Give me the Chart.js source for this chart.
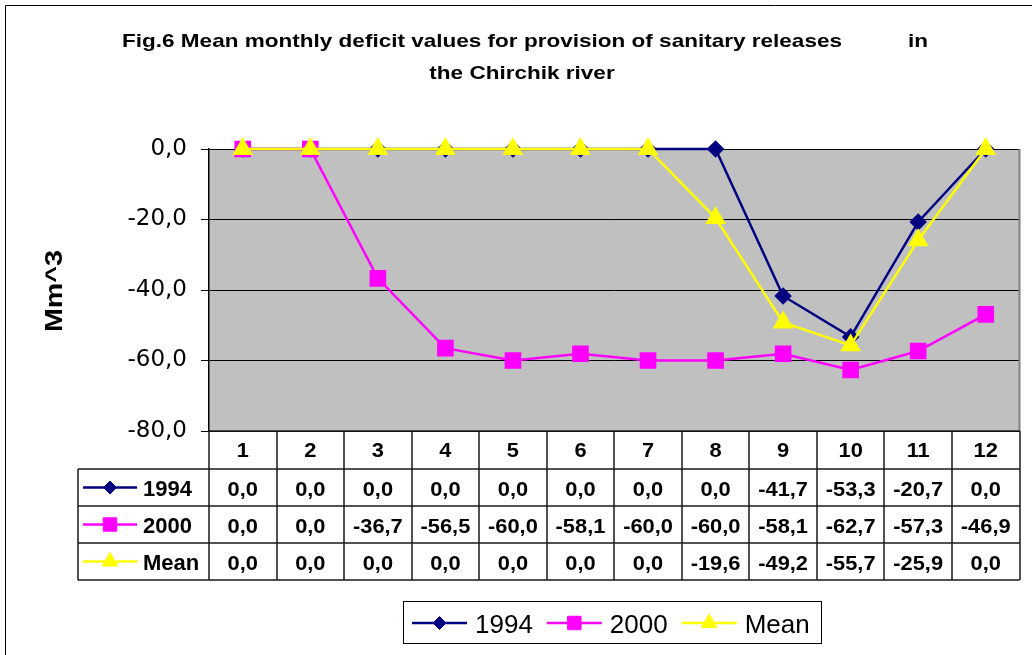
<!DOCTYPE html>
<html>
<head>
<meta charset="utf-8">
<script src="https://cdn.jsdelivr.net/npm/chart.js@4/dist/chart.umd.min.js"></script>
<style>
  html, body { margin: 0; padding: 0; background: #fff; }
  #wrap { width: 1032px; height: 655px; position: relative; }
</style>
</head>
<body>
<div id="wrap"><canvas id="deficitChart"></canvas></div>
<script>
// chart data
var months = ['1', '2', '3', '4', '5', '6', '7', '8', '9', '10', '11', '12'];
var deficit1994 = [0.0, 0.0, 0.0, 0.0, 0.0, 0.0, 0.0, 0.0, -41.7, -53.3, -20.7, 0.0];
var deficit2000 = [0.0, 0.0, -36.7, -56.5, -60.0, -58.1, -60.0, -60.0, -58.1, -62.7, -57.3, -46.9];
var deficitMean = [0.0, 0.0, 0.0, 0.0, 0.0, 0.0, 0.0, -19.6, -49.2, -55.7, -25.9, 0.0];
var seriesNames = ['1994', '2000', 'Mean'];
var yMin = -80, yMax = 0, yStep = 20;

var titleLine1 = 'Fig.6 Mean monthly deficit values for provision of sanitary releases';
var titleTail = 'in';
var titleLine2 = 'the Chirchik river';
var yTitle = 'Mm^3';

function fmt(v) {
  return v.toFixed(1).replace('.', ',');
}

// draws text squeezed/stretched horizontally by sx
function drawText(ctx, str, x, y, font, align, sx) {
  ctx.save();
  ctx.font = font;
  ctx.textAlign = 'left';
  ctx.textBaseline = 'alphabetic';
  var w = ctx.measureText(str).width * sx;
  var x0 = x;
  if (align === 'center') x0 = x - w / 2;
  if (align === 'right') x0 = x - w;
  ctx.translate(x0, y);
  ctx.scale(sx, 1);
  ctx.fillText(str, 0, 0);
  ctx.restore();
  return w;
}

function marker(ctx, ds, x, y, r) {
  ctx.save();
  ctx.fillStyle = ds.pointBackgroundColor;
  ctx.strokeStyle = ds.pointBorderColor;
  ctx.lineWidth = 1;
  if (Chart.helpers && Chart.helpers.drawPoint) {
    Chart.helpers.drawPoint(ctx, { pointStyle: ds.pointStyle, radius: r, rotation: 0, borderWidth: 1 }, x, y);
  }
  ctx.restore();
}

function legendKey(ctx, ds, x1, x2, y, r) {
  ctx.save();
  ctx.strokeStyle = ds.borderColor;
  ctx.lineWidth = 2.5;
  ctx.beginPath();
  ctx.moveTo(x1, y);
  ctx.lineTo(x2, y);
  ctx.stroke();
  ctx.restore();
  marker(ctx, ds, (x1 + x2) / 2, y, r);
}

var sheetPlugin = {
  id: 'sheet',
  beforeDraw: function (chart) {
    var ctx = chart.ctx, a = chart.chartArea;
    ctx.save();
    ctx.fillStyle = '#fff';
    ctx.fillRect(0, 0, chart.width, chart.height);
    ctx.fillStyle = '#c0c0c0';
    ctx.fillRect(a.left, a.top, a.right - a.left, a.bottom - a.top);
    ctx.restore();
  },
  afterDraw: function (chart) {
    var ctx = chart.ctx, a = chart.chartArea;
    var xs = chart.scales.x;
    var dsets = chart.data.datasets;
    var i, j;

    // outer frame
    ctx.save();
    ctx.strokeStyle = '#000';
    ctx.lineWidth = 1;
    ctx.beginPath();
    ctx.moveTo(5.5, chart.height);
    ctx.lineTo(5.5, 5.5);
    ctx.lineTo(chart.width, 5.5);
    ctx.stroke();

    // plot area right edge
    ctx.strokeStyle = '#808080';
    ctx.lineWidth = 2;
    ctx.beginPath();
    ctx.moveTo(a.right, a.top);
    ctx.lineTo(a.right, a.bottom);
    ctx.stroke();
    ctx.restore();

    // title
    ctx.save();
    ctx.fillStyle = '#000';
    var tFont = 'bold 19px Arial, "Liberation Sans", sans-serif';
    ctx.font = tFont;
    var sx = (842 - 122) / ctx.measureText(titleLine1).width;
    drawText(ctx, titleLine1, 122, 47, tFont, 'left', sx);
    drawText(ctx, titleTail, 908, 47, tFont, 'left', sx);
    drawText(ctx, titleLine2, 522, 79, tFont, 'center', sx);

    // y axis title
    var yFont = 'bold 24px Arial, "Liberation Sans", sans-serif';
    ctx.font = yFont;
    var ysx = 82 / ctx.measureText(yTitle).width;
    ctx.translate(62, 291);
    ctx.rotate(-Math.PI / 2);
    drawText(ctx, yTitle, 0, 0, yFont, 'center', ysx);
    ctx.restore();

    // data table
    var colW = (xs.right - xs.left) / months.length;
    var headTop = a.bottom, headBot = 469, rowH = 37;
    var tableLeft = 78;
    var rowsBot = headBot + rowH * dsets.length;
    ctx.save();
    ctx.strokeStyle = '#1a1a1a';
    ctx.lineWidth = 1.5;
    ctx.beginPath();
    for (i = 0; i <= months.length; i++) {
      var vx = Math.round(xs.left + i * colW);
      ctx.moveTo(vx, headTop);
      ctx.lineTo(vx, rowsBot);
    }
    ctx.moveTo(tableLeft, headBot);
    ctx.lineTo(tableLeft, rowsBot);
    for (j = 0; j <= dsets.length; j++) {
      var hy = headBot + j * rowH;
      ctx.moveTo(tableLeft, hy);
      ctx.lineTo(xs.right, hy);
    }
    ctx.moveTo(xs.left, headTop);
    ctx.lineTo(xs.right, headTop);
    ctx.stroke();
    ctx.restore();

    ctx.save();
    ctx.fillStyle = '#000';
    var cFont = 'bold 19.5px Arial, "Liberation Sans", sans-serif';
    for (i = 0; i < months.length; i++) {
      var cx = xs.getPixelForValue(i);
      drawText(ctx, months[i], cx, 457, cFont, 'center', 1.12);
      for (j = 0; j < dsets.length; j++) {
        drawText(ctx, fmt(dsets[j].data[i]), cx, 496 + j * rowH, cFont, 'center', 1.12);
      }
    }
    var lFont = 'bold 22px Arial, "Liberation Sans", sans-serif';
    var radii = [6.5, 9.5, 9];
    for (j = 0; j < dsets.length; j++) {
      var ry = headBot + j * rowH + rowH / 2;
      legendKey(ctx, dsets[j], 83, 137, ry, radii[j]);
      ctx.fillStyle = '#000';
      drawText(ctx, dsets[j].label, 143, 496 + j * rowH, lFont, 'left', 1);
    }
    ctx.restore();

    // bottom legend
    ctx.save();
    var gFont = '26px Arial, "Liberation Sans", sans-serif';
    var lx = 412, ly = 623;
    for (j = 0; j < dsets.length; j++) {
      legendKey(ctx, dsets[j], lx, lx + 55, ly, radii[j]);
      ctx.fillStyle = '#000';
      var tw = drawText(ctx, dsets[j].label, lx + 63, 633, gFont, 'left', 1);
      lx = lx + 63 + tw + 14;
    }
    ctx.strokeStyle = '#000';
    ctx.lineWidth = 1;
    ctx.strokeRect(403.5, 601.5, Math.round(lx - 14 + 11 - 403), 42);
    ctx.restore();
  }
};

var ctx = document.getElementById('deficitChart').getContext('2d');
var deficitChart = new Chart(ctx, {
  type: 'line',
  data: {
    labels: months,
    datasets: [{
      label: seriesNames[0],
      data: deficit1994,
      borderColor: '#000080',
      backgroundColor: '#000080',
      pointBackgroundColor: '#000080',
      pointBorderColor: '#000080',
      pointStyle: 'rectRot',
      pointRadius: 7,
      borderWidth: 2.5,
      order: 2,
      clip: false
    }, {
      label: seriesNames[1],
      data: deficit2000,
      borderColor: '#ff00ff',
      backgroundColor: '#ff00ff',
      pointBackgroundColor: '#ff00ff',
      pointBorderColor: '#ff00ff',
      pointStyle: 'rect',
      pointRadius: 10,
      borderWidth: 2.5,
      order: 1,
      clip: false
    }, {
      label: seriesNames[2],
      data: deficitMean,
      borderColor: '#ffff00',
      backgroundColor: '#ffff00',
      pointBackgroundColor: '#ffff00',
      pointBorderColor: '#ffff00',
      pointStyle: 'triangle',
      pointRadius: 9.5,
      borderWidth: 2.5,
      order: 0,
      clip: false
    }]
  },
  options: {
    responsive: true,
    maintainAspectRatio: false,
    animation: false,
    layout: {
      padding: { left: 10, top: 149, right: 10, bottom: 224 }
    },
    plugins: {
      legend: { display: false },
      title: { display: false },
      tooltip: { enabled: false }
    },
    scales: {
      x: {
        type: 'category',
        display: false,
        offset: true
      },
      y: {
        min: yMin,
        max: yMax,
        afterFit: function (scale) {
          scale.width = 199;
        },
        ticks: {
          stepSize: yStep,
          padding: 14,
          color: '#000',
          font: { family: '"DejaVu Sans", Arial, sans-serif', size: 23 },
          callback: function (v) { return fmt(v); }
        },
        grid: {
          color: '#000',
          lineWidth: 1,
          tickLength: 8,
          drawTicks: true
        },
        border: { color: '#000', width: 1.5 }
      }
    }
  },
  plugins: [sheetPlugin]
});
</script>
</body>
</html>
